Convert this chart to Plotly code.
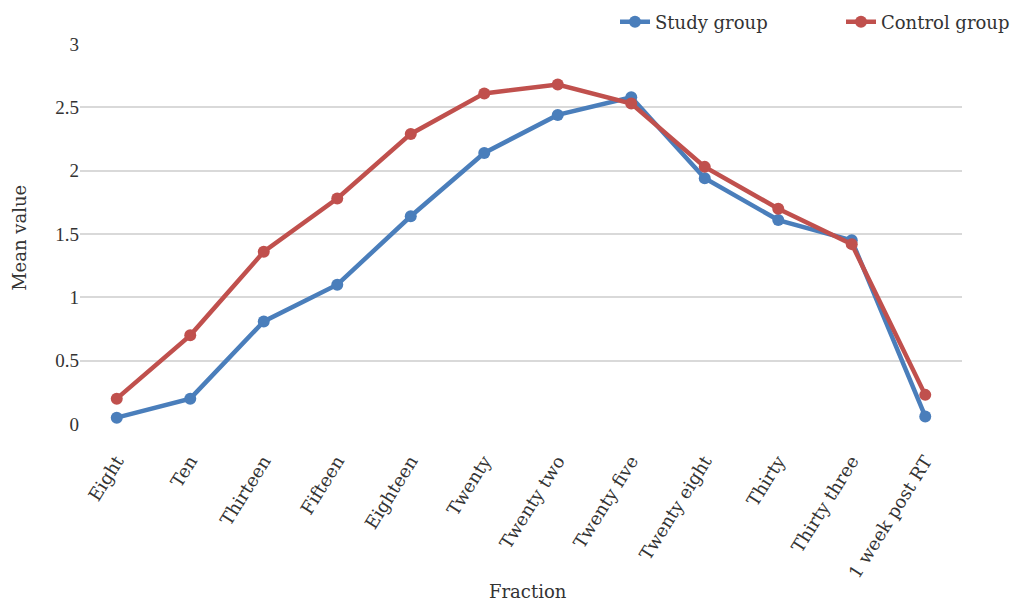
import plotly.graph_objects as go

categories = ["Eight", "Ten", "Thirteen", "Fifteen", "Eighteen", "Twenty",
              "Twenty two", "Twenty five", "Twenty eight", "Thirty",
              "Thirty three", "1 week post RT"]
study_group = [0.05, 0.20, 0.81, 1.10, 1.64, 2.14, 2.44, 2.58, 1.94, 1.61, 1.45, 0.06]
control_group = [0.20, 0.70, 1.36, 1.78, 2.29, 2.61, 2.68, 2.53, 2.03, 1.70, 1.42, 0.23]
y_ticks = [0, 0.5, 1, 1.5, 2, 2.5, 3]

FONT = "DejaVu Serif"
NUMFONT = "Liberation Serif"
TXT = "#333333"
BLUE = "#4a7ebb"
RED = "#c0504d"

fig = go.Figure()
fig.add_trace(go.Scatter(x=categories, y=study_group, name="Study group",
                         mode="lines+markers", legend="legend",
                         line=dict(color=BLUE, width=4.5),
                         marker=dict(color=BLUE, size=12, symbol="circle")))
fig.add_trace(go.Scatter(x=categories, y=control_group, name="Control group",
                         mode="lines+markers", legend="legend2",
                         line=dict(color=RED, width=4.5),
                         marker=dict(color=RED, size=12, symbol="circle")))

legend_common = dict(orientation="h", xanchor="left", yanchor="middle",
                     xref="container", yref="container", y=1 - 22 / 602,
                     font=dict(family=FONT, size=18, color=TXT),
                     bgcolor="rgba(0,0,0,0)", itemwidth=30)

fig.update_layout(
    width=1017, height=602,
    margin=dict(l=80, r=55, t=44, b=178),
    paper_bgcolor="white", plot_bgcolor="white",
    font=dict(family=FONT, size=18, color=TXT),
    showlegend=True,
    legend=dict(legend_common, x=615 / 1017),
    legend2=dict(legend_common, x=841 / 1017),
    xaxis=dict(type="category", tickangle=-58, showgrid=False, zeroline=False,
               showline=False, ticks="", automargin=False, ticklabelstandoff=22,
               tickfont=dict(family=FONT, size=18, color=TXT),
               range=[-0.5, len(categories) - 0.5]),
    yaxis=dict(range=[0, 3], tickvals=y_ticks, ticktext=[f"{v:g}" for v in y_ticks],
               showgrid=True, gridcolor="#d9d9d9", gridwidth=2, zeroline=False,
               showline=False, ticks="", automargin=False,
               tickfont=dict(family=NUMFONT, size=19, color=TXT)),
    annotations=[
        dict(text="Fraction", x=0.508, y=-0.44, xref="paper", yref="paper",
             showarrow=False, font=dict(family=FONT, size=18, color=TXT),
             xanchor="center", yanchor="middle"),
        dict(text="Mean value", x=-0.068, y=0.49, xref="paper", yref="paper",
             showarrow=False, textangle=-90,
             font=dict(family=FONT, size=18, color=TXT),
             xanchor="center", yanchor="middle"),
    ],
)

fig.write_html("out.html", config={"displayModeBar": False},
               post_script="document.body.style.margin='0';document.body.style.overflow='hidden';")
